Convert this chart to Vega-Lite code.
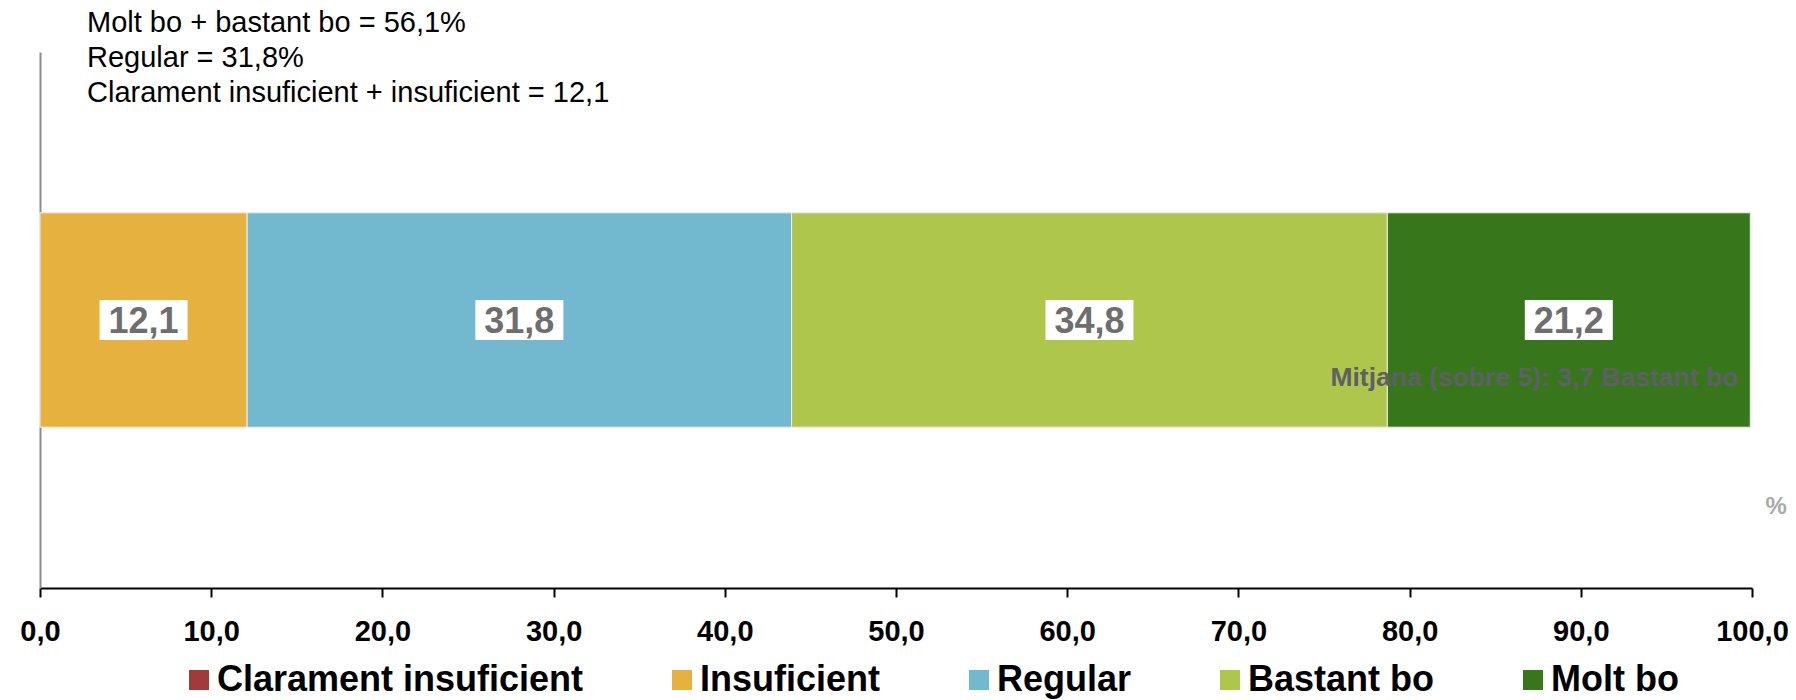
{
  "$schema": "https://vega.github.io/schema/vega-lite/v6.json",
  "width": 1712,
  "height": 536,
  "autosize": {"type": "none"},
  "padding": {"left": 40, "top": 52, "right": 44, "bottom": 112},
  "config": {
    "font": "Liberation Sans",
    "view": {"stroke": null},
    "locale": {"number": {"decimal": ",", "thousands": ".", "grouping": [3], "currency": ["", " €"]}}
  },
  "title": {
    "text": ["Molt bo + bastant bo = 56,1%", "Regular = 31,8%", "Clarament insuficient + insuficient = 12,1"],
    "anchor": "start",
    "frame": "group",
    "orient": "top",
    "baseline": "top",
    "offset": 0,
    "dx": 47,
    "dy": 56,
    "fontSize": 29,
    "fontWeight": "normal",
    "lineHeight": 35,
    "color": "#000000",
    "font": "Liberation Sans"
  },
  "data": {
    "values": [
      {"grp": "A", "cat": "Clarament insuficient", "value": 0, "order": 1},
      {"grp": "A", "cat": "Insuficient", "value": 12.1, "order": 2},
      {"grp": "A", "cat": "Regular", "value": 31.8, "order": 3},
      {"grp": "A", "cat": "Bastant bo", "value": 34.8, "order": 4},
      {"grp": "A", "cat": "Molt bo", "value": 21.2, "order": 5}
    ]
  },
  "encoding": {
    "y": {
      "field": "grp",
      "type": "nominal",
      "scale": {"paddingInner": 0, "paddingOuter": 0.75},
      "axis": {"labels": false, "ticks": false, "title": null, "domainColor": "#8c8c8c", "domainWidth": 2}
    }
  },
  "layer": [
    {
      "mark": {"type": "bar", "stroke": "#eeeeee", "strokeWidth": 1},
      "encoding": {
        "x": {
          "field": "value",
          "type": "quantitative",
          "stack": "zero",
          "scale": {"domain": [0, 100], "nice": false},
          "axis": {
            "values": [0, 10, 20, 30, 40, 50, 60, 70, 80, 90, 100],
            "format": ".1f",
            "grid": false,
            "domainColor": "#000000",
            "domainWidth": 2,
            "tickColor": "#000000",
            "tickWidth": 2,
            "tickSize": 9,
            "labelFontSize": 29,
            "labelFontWeight": "bold",
            "labelColor": "#000000",
            "labelPadding": 20,
            "labelFlush": false,
            "title": "%",
            "titleX": 1725,
            "titleY": -82,
            "titleAlign": "left",
            "titleBaseline": "middle",
            "titleAnchor": null,
            "titleColor": "#aaaaaa",
            "titleFontSize": 24,
            "titleFontWeight": "bold"
          }
        },
        "color": {
          "field": "cat",
          "type": "nominal",
          "scale": {
            "domain": ["Clarament insuficient", "Insuficient", "Regular", "Bastant bo", "Molt bo"],
            "range": ["#A03B38", "#E7B13F", "#72B8CF", "#AFC64C", "#38761C"]
          },
          "legend": {
            "orient": "none",
            "legendX": 141,
            "legendY": 610,
            "padding": 0,
            "direction": "horizontal",
            "title": null,
            "symbolType": "square",
            "symbolSize": 400,
            "symbolStrokeWidth": 0,
            "labelFontSize": 36,
            "labelFontWeight": "bold",
            "labelColor": "#000000",
            "labelLimit": 0,
            "labelOffset": 0,
            "columnPadding": 80
          }
        },
        "order": {"field": "order"}
      }
    },
    {
      "transform": [{"filter": "datum.value > 0"}],
      "mark": {"type": "point", "shape": "M-2.2,-1L2.2,-1L2.2,1L-2.2,1Z", "filled": true, "color": "#ffffff", "opacity": 1, "size": 1600, "strokeWidth": 0},
      "encoding": {
        "x": {"field": "value", "type": "quantitative", "stack": "zero", "bandPosition": 0.5},
        "order": {"field": "order"}
      }
    },
    {
      "transform": [{"filter": "datum.value > 0"}],
      "mark": {"type": "text", "fontSize": 36, "fontWeight": "bold", "color": "#6E6E6E", "baseline": "middle", "align": "center", "dy": 2},
      "encoding": {
        "x": {"field": "value", "type": "quantitative", "stack": "zero", "bandPosition": 0.5},
        "text": {"field": "value", "type": "quantitative", "format": ".1f"},
        "order": {"field": "order"}
      }
    },
    {
      "data": {"values": [{"grp": "A", "note": "Mitjana (sobre 5): 3,7 Bastant bo"}]},
      "mark": {"type": "text", "fontSize": 26.5, "fontWeight": "bold", "color": "#5F5F68", "align": "right", "baseline": "middle", "dy": 58},
      "encoding": {
        "x": {"datum": 99.2},
        "text": {"field": "note", "type": "nominal"}
      }
    }
  ]
}
